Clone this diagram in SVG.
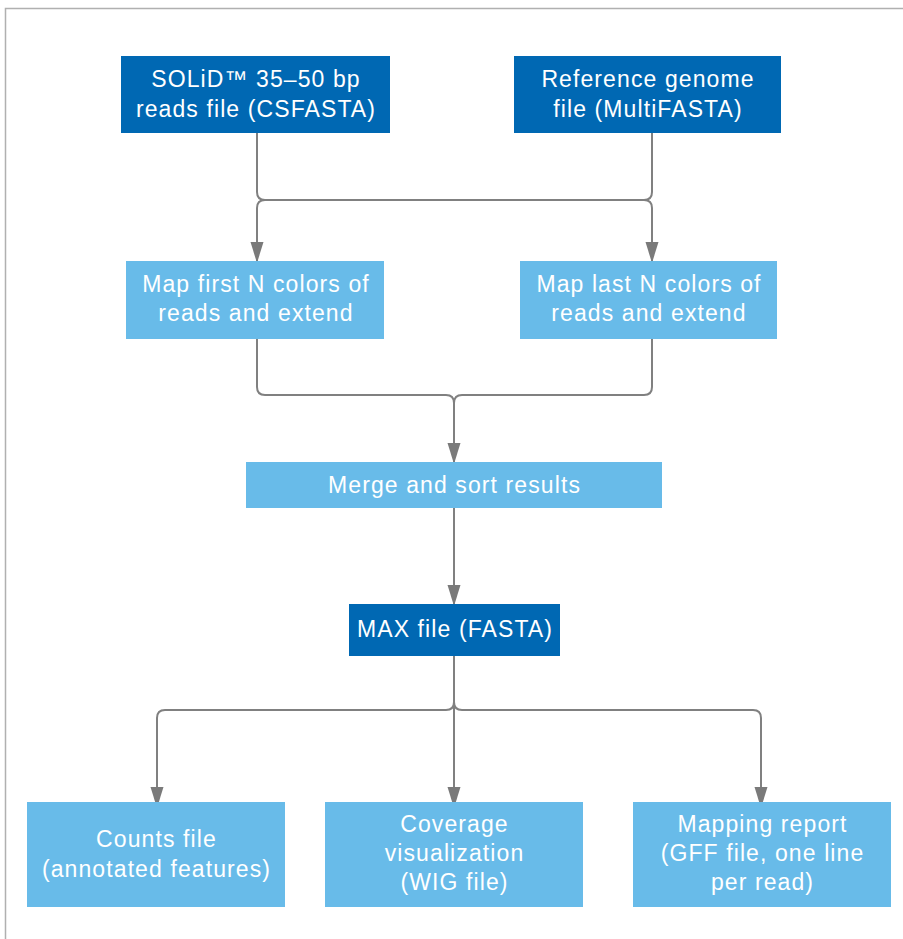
<svg xmlns="http://www.w3.org/2000/svg" width="903" height="939" viewBox="0 0 903 939">
<style>
.dark{fill:#0068b3}
.light{fill:#68bbe9}
text{font-family:"Liberation Sans",Arial,sans-serif;font-size:23px;letter-spacing:1.1px;fill:#ffffff;text-anchor:middle}
.conn{fill:none;stroke:#808080;stroke-width:2}
</style>
<defs>
<marker id="arr" markerUnits="userSpaceOnUse" markerWidth="22" markerHeight="14" refX="21" refY="7" orient="auto">
<path d="M0,0.5 L21,7 L0,13.5 z" fill="#7a7a7a"/>
</marker>
</defs>
<rect width="903" height="939" fill="#ffffff"/>
<path d="M5.5,939 V8.5 H903" fill="none" stroke="#b0b0b0" stroke-width="1.5"/>
<g id="connectors">
<path class="conn" d="M257,133 V192 Q257,200 265,200 H644 Q652,200 652,192 V133"/>
<path class="conn" d="M265,200 Q257,200 257,208 V263" marker-end="url(#arr)"/>
<path class="conn" d="M644,200 Q652,200 652,208 V263" marker-end="url(#arr)"/>
<path class="conn" d="M257,339 V387 Q257,395 265,395 H446 Q454,395 454,403 V464" marker-end="url(#arr)"/>
<path class="conn" d="M652,339 V387 Q652,395 644,395 H462 Q454,395 454,403"/>
<path class="conn" d="M454,508 V606" marker-end="url(#arr)"/>
<path class="conn" d="M454,656 V808" marker-end="url(#arr)"/>
<path class="conn" d="M454,702 Q454,710 446,710 H165 Q157,710 157,718 V808" marker-end="url(#arr)"/>
<path class="conn" d="M454,702 Q454,710 462,710 H753 Q761,710 761,718 V808" marker-end="url(#arr)"/>
</g>
<g id="reads">
<rect class="dark" x="121" y="56" width="269" height="77"/>
<text x="256" y="87">SOLiD™ 35–50 bp</text>
<text x="256" y="117">reads file (CSFASTA)</text>
</g>
<g id="reference">
<rect class="dark" x="514" y="56" width="267" height="77"/>
<text x="648" y="87">Reference genome</text>
<text x="648" y="117">file (MultiFASTA)</text>
</g>
<g id="mapfirst">
<rect class="light" x="126" y="261" width="258" height="78"/>
<text x="256" y="292">Map first N colors of</text>
<text x="256" y="321">reads and extend</text>
</g>
<g id="maplast">
<rect class="light" x="520" y="261" width="257" height="78"/>
<text x="649" y="292">Map last N colors of</text>
<text x="649" y="321">reads and extend</text>
</g>
<g id="merge">
<rect class="light" x="246" y="462" width="416" height="46"/>
<text x="454.5" y="493">Merge and sort results</text>
</g>
<g id="max">
<rect class="dark" x="349" y="604" width="211" height="52"/>
<text x="455" y="637">MAX file (FASTA)</text>
</g>
<g id="counts">
<rect class="light" x="27" y="802" width="258" height="105"/>
<text x="156.5" y="847">Counts file</text>
<text x="156.5" y="877">(annotated features)</text>
</g>
<g id="coverage">
<rect class="light" x="325" y="802" width="258" height="105"/>
<text x="454.5" y="832">Coverage</text>
<text x="454.5" y="861">visualization</text>
<text x="454.5" y="890">(WIG file)</text>
</g>
<g id="report">
<rect class="light" x="633" y="802" width="258" height="105"/>
<text x="762.5" y="832">Mapping report</text>
<text x="762.5" y="861">(GFF file, one line</text>
<text x="762.5" y="890">per read)</text>
</g>
</svg>
